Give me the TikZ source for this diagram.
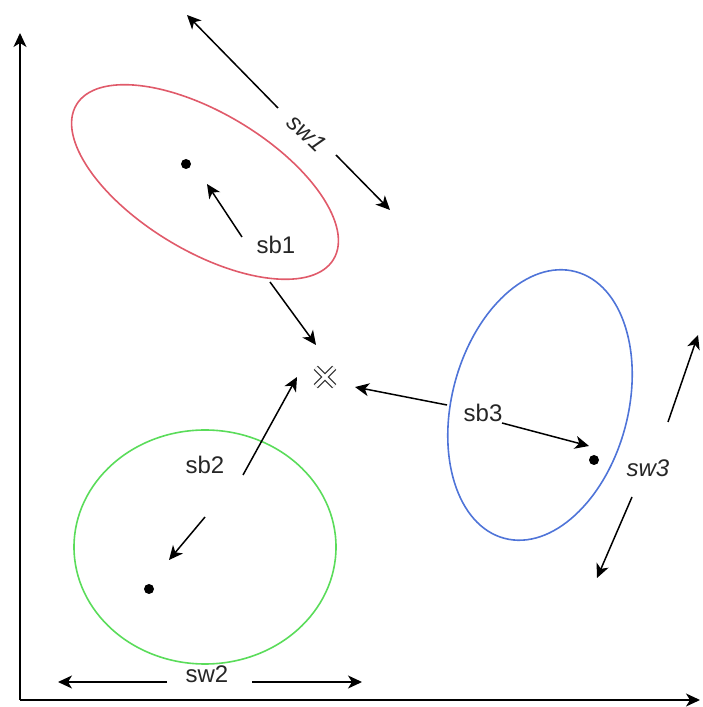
\documentclass[tikz,border=0pt]{standalone}
\usepackage{fontspec}
\setmainfont{Liberation Sans}
\usetikzlibrary{arrows.meta, shapes.misc}
\tikzset{cluster/.style={line width=0.8pt},
centre/.style={circle, fill=black, inner sep=0pt, minimum size=5pt},
lbl/.style={font=\fontsize{12}{14}\selectfont, text=black!85, inner sep=1pt},
wlbl/.style={lbl, font=\fontsize{12}{14}\selectfont\itshape},
arr/.style={-{Stealth[length=7pt, width=6.5pt, inset=2pt]}, line width=0.75pt},
crossmark/.style={cross out, draw=black!80, double=white, double distance=1.6pt, line width=0.7pt, minimum size=8.5pt, inner sep=0pt}}
\definecolor{redc}{HTML}{E05A6A}
\definecolor{greenc}{HTML}{5ADC5A}
\definecolor{bluec}{HTML}{4F74D8}

\begin{document}
\begin{tikzpicture}[x=0.5pt, y=0.5pt]
  \useasboundingbox (0,0) rectangle (702,707);
  % axes
  \coordinate (o) at (20,7);
  \coordinate (ytop) at (20,674);
  \coordinate (xend) at (700,7);
  \draw[arr] (o) -- (ytop);
  \draw[arr] (o) -- (xend);
  % cluster 1
  \draw[cluster, redc] (205,525) ellipse [x radius=150, y radius=69, rotate=-31];
  \node[centre] (m1) at (186,543) {};
  \node[lbl] (sb1) at (276,462) {sb1};
  \coordinate (sb1a) at (242,470);
  \coordinate (sb1b) at (207,523);
  \coordinate (sb1c) at (270,425);
  \coordinate (sb1d) at (316,362);
  \draw[arr] (sb1a) -- (sb1b);
  \draw[arr] (sb1c) -- (sb1d);
  \node[wlbl, rotate=-44] (sw1) at (307,574) {sw1};
  \coordinate (sw1a) at (278,599);
  \coordinate (sw1b) at (187,692);
  \coordinate (sw1c) at (336,552);
  \coordinate (sw1d) at (390,497);
  \draw[arr] (sw1a) -- (sw1b);
  \draw[arr] (sw1c) -- (sw1d);
  % overall mean
  \node[crossmark] (m) at (325,330) {};
  % cluster 2
  \draw[cluster, greenc] (205,160) ellipse [x radius=131, y radius=117];
  \node[centre] (m2) at (149,118) {};
  \node[lbl] (sb2) at (205,242) {sb2};
  \coordinate (sb2a) at (243,232);
  \coordinate (sb2b) at (297,330);
  \coordinate (sb2c) at (205,190);
  \coordinate (sb2d) at (169,147);
  \draw[arr] (sb2a) -- (sb2b);
  \draw[arr] (sb2c) -- (sb2d);
  \node[lbl] (sw2) at (207,33) {sw2};
  \coordinate (sw2a) at (167,25);
  \coordinate (sw2b) at (58,25);
  \coordinate (sw2c) at (252,25);
  \coordinate (sw2d) at (362,25);
  \draw[arr] (sw2a) -- (sw2b);
  \draw[arr] (sw2c) -- (sw2d);
  % cluster 3
  \draw[cluster, bluec] (540,302) ellipse [x radius=138, y radius=88, rotate=75];
  \node[centre] (m3) at (594,247) {};
  \node[lbl] (sb3) at (483,294) {sb3};
  \coordinate (sb3a) at (447,302);
  \coordinate (sb3b) at (355,320);
  \coordinate (sb3c) at (502,284);
  \coordinate (sb3d) at (589,261);
  \draw[arr] (sb3a) -- (sb3b);
  \draw[arr] (sb3c) -- (sb3d);
  \node[wlbl] (sw3) at (648,239) {sw3};
  \coordinate (sw3a) at (668,285);
  \coordinate (sw3b) at (698,372);
  \coordinate (sw3c) at (632,210);
  \coordinate (sw3d) at (597,129);
  \draw[arr] (sw3a) -- (sw3b);
  \draw[arr] (sw3c) -- (sw3d);
\end{tikzpicture}
\end{document}
